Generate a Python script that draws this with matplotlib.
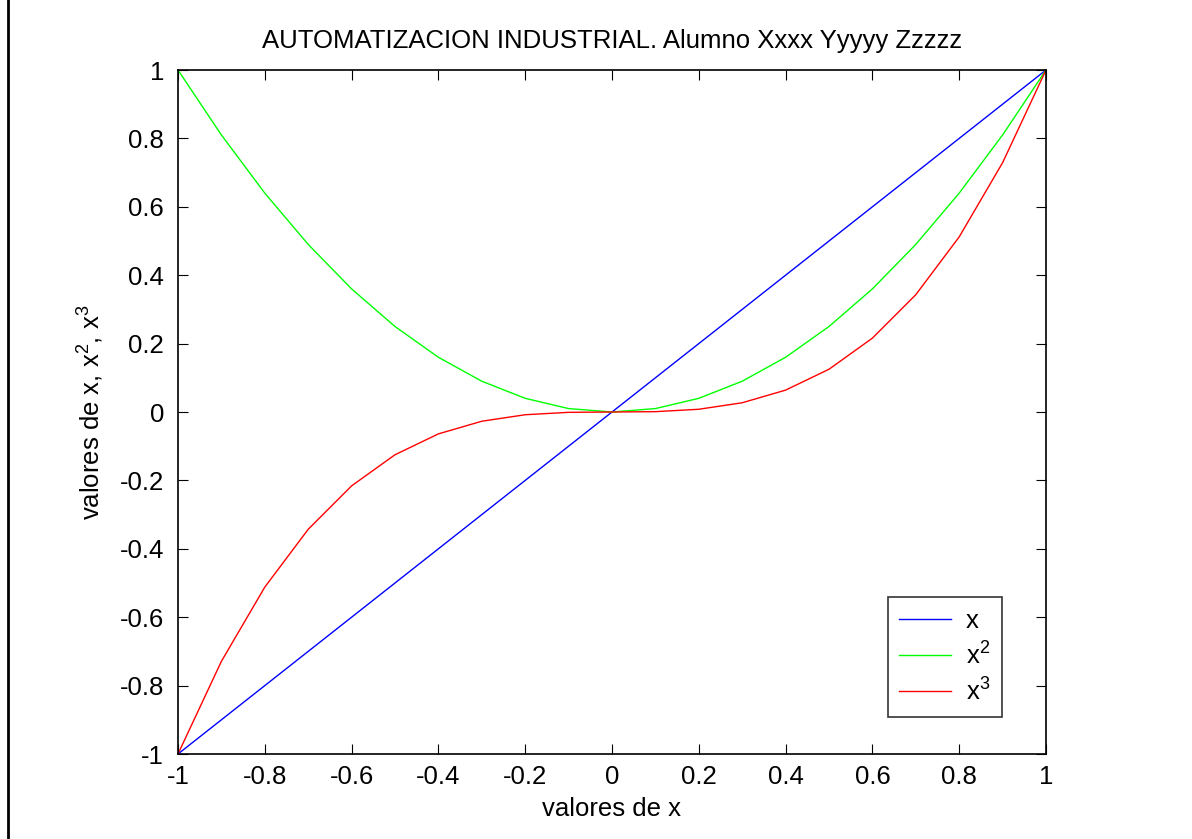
import matplotlib
matplotlib.use("Agg")
import matplotlib.pyplot as plt
from matplotlib.lines import Line2D

plt.rcParams['font.family'] = ['Liberation Sans', 'DejaVu Sans']
plt.rcParams['mathtext.fontset'] = 'custom'
plt.rcParams['mathtext.rm'] = 'Liberation Sans'
plt.rcParams['mathtext.it'] = 'Liberation Sans'
plt.rcParams['mathtext.default'] = 'regular'

x_vals = [-1.0, -0.9, -0.8, -0.7, -0.6, -0.5, -0.4, -0.3, -0.2, -0.1, 0.0,
          0.1, 0.2, 0.3, 0.4, 0.5, 0.6, 0.7, 0.8, 0.9, 1.0]
y_x = [-1.0, -0.9, -0.8, -0.7, -0.6, -0.5, -0.4, -0.3, -0.2, -0.1, 0.0,
       0.1, 0.2, 0.3, 0.4, 0.5, 0.6, 0.7, 0.8, 0.9, 1.0]
y_x2 = [1.0, 0.81, 0.64, 0.49, 0.36, 0.25, 0.16, 0.09, 0.04, 0.01, 0.0,
        0.01, 0.04, 0.09, 0.16, 0.25, 0.36, 0.49, 0.64, 0.81, 1.0]
y_x3 = [-1.0, -0.729, -0.512, -0.343, -0.216, -0.125, -0.064, -0.027, -0.008, -0.001, 0.0,
        0.001, 0.008, 0.027, 0.064, 0.125, 0.216, 0.343, 0.512, 0.729, 1.0]
xticks = [-1, -0.8, -0.6, -0.4, -0.2, 0, 0.2, 0.4, 0.6, 0.8, 1]
xticklabels = ['-1', '-0.8', '-0.6', '-0.4', '-0.2', '0', '0.2', '0.4', '0.6', '0.8', '1']
yticks = [-1, -0.8, -0.6, -0.4, -0.2, 0, 0.2, 0.4, 0.6, 0.8, 1]
yticklabels = ['-1', '-0.8', '-0.6', '-0.4', '-0.2', '0', '0.2', '0.4', '0.6', '0.8', '1']

FS = 18.5

fig = plt.figure(figsize=(11.92, 8.39), dpi=100)
ax = fig.add_axes([178/1192, 1-754/839, (1046-178)/1192, (754-70)/839])

ax.plot(x_vals, y_x, color='#0000ff', lw=1.0, label='x')
ax.plot(x_vals, y_x2, color='#00ff00', lw=1.0, label='x$^2$')
ax.plot(x_vals, y_x3, color='#ff0000', lw=1.0, label='x$^3$')

ax.set_xlim(-1, 1)
ax.set_ylim(-1, 1)
ax.set_xticks(xticks)
ax.set_xticklabels(xticklabels)
ax.set_yticks(yticks)
ax.set_yticklabels(yticklabels)
ax.tick_params(direction='in', top=True, right=True, labelsize=FS, length=7, width=0.8)
ax.tick_params(axis='x', pad=8)
ax.tick_params(axis='y', pad=10)
for s in ax.spines.values():
    s.set_linewidth(1.2)

ax.set_title('AUTOMATIZACION INDUSTRIAL. Alumno Xxxx Yyyyy Zzzzz', fontsize=FS, pad=16)
ax.set_xlabel('valores de x', fontsize=FS, labelpad=6)
ax.set_ylabel('valores de x, x$^2$, x$^3$', fontsize=FS, labelpad=10)

leg = ax.legend(loc='lower right', bbox_to_anchor=((1002-178)/(1046-178), (754-717)/(754-70)),
                fontsize=FS, frameon=True, fancybox=False, edgecolor='black',
                handlelength=2.0, handletextpad=0.6, borderpad=0.45, labelspacing=0.35,
                borderaxespad=0.0)
leg.get_frame().set_linewidth(1.2)

# page border at left
fig.add_artist(Line2D([8/1192, 8/1192], [0, 1], transform=fig.transFigure, color='black', lw=2))

fig.savefig('out.png', dpi=100)
